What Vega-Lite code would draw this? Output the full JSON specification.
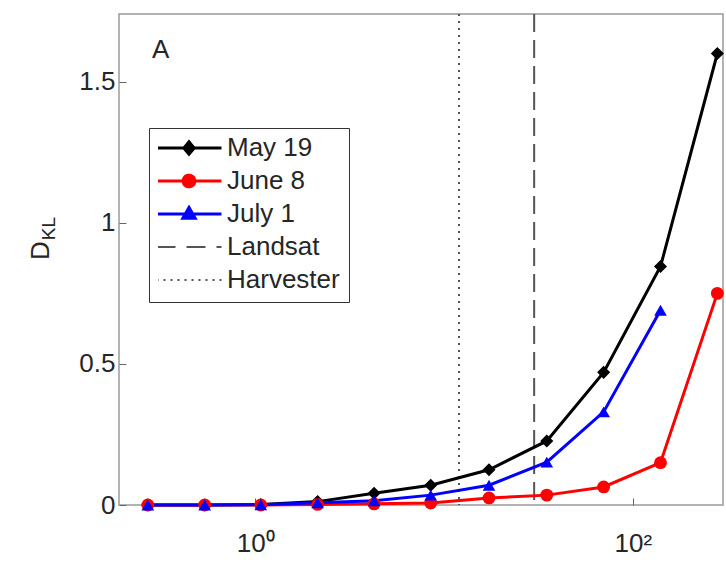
{
  "$schema": "https://vega.github.io/schema/vega-lite/v6.json",
  "width": 604,
  "height": 491,
  "autosize": {"type": "none"},
  "padding": {"left": 119, "top": 14, "right": 3, "bottom": 57},
  "background": "white",
  "config": {
    "font": "Liberation Sans",
    "view": {"stroke": "#9a9a9a", "strokeWidth": 1.5},
    "axis": {
      "labelFont": "Liberation Sans",
      "labelFontSize": 26,
      "labelColor": "#262626",
      "titleFont": "Liberation Sans",
      "titleColor": "#262626",
      "titleFontWeight": "normal",
      "grid": false,
      "domain": false,
      "tickColor": "#666666",
      "tickWidth": 1
    }
  },
  "datasets": {
    "curves": [
      {"series": "May 19", "size": 0.27, "dkl": 0},
      {"series": "May 19", "size": 0.54, "dkl": 0},
      {"series": "May 19", "size": 1.07, "dkl": 0.002},
      {"series": "May 19", "size": 2.14, "dkl": 0.012},
      {"series": "May 19", "size": 4.26, "dkl": 0.042},
      {"series": "May 19", "size": 8.5, "dkl": 0.07},
      {"series": "May 19", "size": 17.3, "dkl": 0.125},
      {"series": "May 19", "size": 35, "dkl": 0.227},
      {"series": "May 19", "size": 70, "dkl": 0.47},
      {"series": "May 19", "size": 140, "dkl": 0.845},
      {"series": "May 19", "size": 280, "dkl": 1.6},
      {"series": "June 8", "size": 0.27, "dkl": 0},
      {"series": "June 8", "size": 0.54, "dkl": 0},
      {"series": "June 8", "size": 1.07, "dkl": 0},
      {"series": "June 8", "size": 2.14, "dkl": 0.002},
      {"series": "June 8", "size": 4.26, "dkl": 0.004},
      {"series": "June 8", "size": 8.5, "dkl": 0.007},
      {"series": "June 8", "size": 17.3, "dkl": 0.025},
      {"series": "June 8", "size": 35, "dkl": 0.035},
      {"series": "June 8", "size": 70, "dkl": 0.064},
      {"series": "June 8", "size": 140, "dkl": 0.15},
      {"series": "June 8", "size": 280, "dkl": 0.75},
      {"series": "July 1", "size": 0.27, "dkl": 0},
      {"series": "July 1", "size": 0.54, "dkl": 0},
      {"series": "July 1", "size": 1.07, "dkl": 0.001},
      {"series": "July 1", "size": 2.14, "dkl": 0.008},
      {"series": "July 1", "size": 4.26, "dkl": 0.015},
      {"series": "July 1", "size": 8.5, "dkl": 0.035},
      {"series": "July 1", "size": 17.3, "dkl": 0.07},
      {"series": "July 1", "size": 35, "dkl": 0.152},
      {"series": "July 1", "size": 70, "dkl": 0.33},
      {"series": "July 1", "size": 140, "dkl": 0.69}
    ],
    "refs": [
      {"series": "Landsat", "size": 30},
      {"series": "Harvester", "size": 12}
    ],
    "panel": [
      {"tag": "A", "size": 0.316, "dkl": 1.613}
    ]
  },
  "layer": [
    {
      "data": {"name": "refs"},
      "mark": {"type": "rule", "strokeWidth": 2},
      "encoding": {
        "x": {"field": "size", "type": "quantitative", "scale": {"type": "log", "domain": [0.19, 300]}},
        "color": {"field": "series", "type": "nominal"},
        "strokeDash": {
          "field": "series",
          "type": "nominal",
          "scale": {"domain": ["Landsat", "Harvester"], "range": [[18, 8], [2, 5]]},
          "legend": null
        }
      }
    },
    {
      "data": {"name": "curves"},
      "mark": {"type": "line", "strokeWidth": 3},
      "encoding": {
        "x": {
          "field": "size",
          "type": "quantitative",
          "scale": {"type": "log", "domain": [0.19, 300]},
          "axis": {
            "values": [1, 100],
            "labelExpr": "datum.value == 1 ? '10⁰' : '10²'",
            "title": null,
            "tickSize": -7,
            "labelPadding": 32
          }
        },
        "y": {
          "field": "dkl",
          "type": "quantitative",
          "scale": {"domain": [0, 1.74]},
          "axis": {
            "values": [0, 0.5, 1, 1.5],
            "format": "~g",
            "tickSize": -7,
            "labelPadding": 11,
            "title": "D",
            "titleFontSize": 26,
            "titleAngle": -90,
            "titleAlign": "center",
            "titleBaseline": "alphabetic",
            "titleX": -71,
            "titleY": 236
          }
        },
        "color": {
          "field": "series",
          "type": "nominal",
          "scale": {
            "domain": ["May 19", "June 8", "July 1", "Landsat", "Harvester"],
            "range": ["#000000", "#ff0000", "#0000ff", "#555555", "#555555"]
          },
          "legend": {
            "title": null,
            "orient": "none",
            "legendX": 30,
            "legendY": 114,
            "direction": "vertical",
            "labelFont": "Liberation Sans",
            "labelFontSize": 26,
            "labelColor": "#262626",
            "labelLimit": 300,
            "labelOffset": 25,
            "symbolOffset": 18,
            "symbolSize": 4225,
            "symbolStrokeWidth": 3,
            "clipHeight": 22,
            "rowPadding": 7,
            "padding": 9,
            "strokeColor": "#333333",
            "fillColor": "white",
            "encode": {
              "symbols": {
                "update": {
                  "shape": {"signal": "datum.value == 'May 19' ? 'M-1,0H1M0,-0.19L0.16,0L0,0.19L-0.16,0Z' : datum.value == 'June 8' ? 'M-1,0H1M0.18,0A0.18,0.18 0 1,1 -0.18,0A0.18,0.18 0 1,1 0.18,0Z' : datum.value == 'July 1' ? 'M-1,0H1M0,-0.2L0.19,0.13L-0.19,0.13Z' : 'M-1,0H1'"},
                  "strokeDash": {"signal": "datum.value == 'Landsat' ? [19, 11] : datum.value == 'Harvester' ? [2, 5] : [1, 0]"},
                  "strokeWidth": {"signal": "datum.value == 'Landsat' || datum.value == 'Harvester' ? 2 : 3"},
                  "fill": {"scale": "color", "field": "value"},
                  "opacity": {"value": 1}
                }
              }
            }
          }
        }
      }
    },
    {
      "data": {"name": "curves"},
      "mark": {"type": "point", "filled": true, "opacity": 1},
      "encoding": {
        "x": {"field": "size", "type": "quantitative", "scale": {"type": "log", "domain": [0.19, 300]}},
        "y": {
          "field": "dkl",
          "type": "quantitative",
          "scale": {"domain": [0, 1.74]},
          "axis": {
            "orient": "left",
            "labels": false,
            "ticks": false,
            "domain": false,
            "title": "KL",
            "titleFontSize": 19,
            "titleAngle": -90,
            "titleAlign": "center",
            "titleBaseline": "alphabetic",
            "titleX": -65,
            "titleY": 214
          }
        },
        "color": {"field": "series", "type": "nominal"},
        "shape": {
          "field": "series",
          "type": "nominal",
          "scale": {"domain": ["May 19", "June 8", "July 1"], "range": ["diamond", "circle", "triangle-up"]},
          "legend": null
        },
        "size": {
          "field": "series",
          "type": "nominal",
          "scale": {"domain": ["May 19", "June 8", "July 1"], "range": [170, 160, 220]},
          "legend": null
        }
      }
    },
    {
      "data": {"name": "panel"},
      "mark": {"type": "text", "fontSize": 26, "font": "Liberation Sans", "color": "#262626", "align": "center", "baseline": "middle"},
      "encoding": {
        "x": {"field": "size", "type": "quantitative", "scale": {"type": "log", "domain": [0.19, 300]}},
        "y": {"field": "dkl", "type": "quantitative", "scale": {"domain": [0, 1.74]}, "axis": null},
        "text": {"field": "tag"}
      }
    }
  ],
  "resolve": {"scale": {"y": "independent"}}
}
